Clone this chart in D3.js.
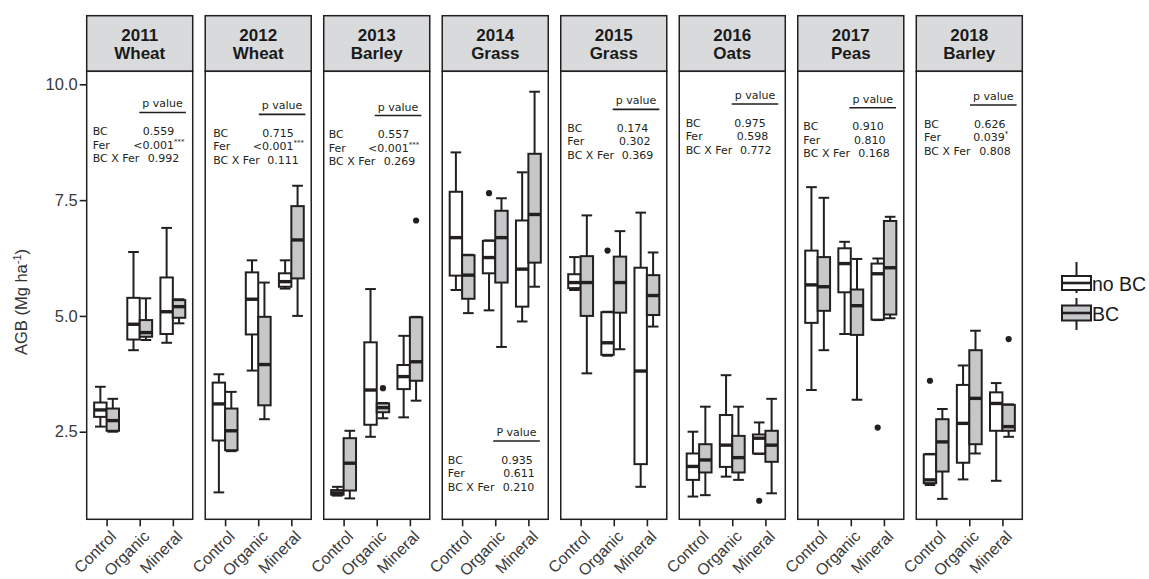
<!DOCTYPE html>
<html>
<head>
<meta charset="utf-8">
<script src="https://cdn.jsdelivr.net/npm/d3@7"></script>
<style>
  html, body { margin: 0; padding: 0; background: #ffffff; }
  svg { display: block; }
</style>
</head>
<body>
<svg id="chart" width="1149" height="579"></svg>
<script>
// ---- data ----
const years = ["2011", "2012", "2013", "2014", "2015", "2016", "2017", "2018"];
const crops = ["Wheat", "Wheat", "Barley", "Grass", "Grass", "Oats", "Peas", "Barley"];
const treatments = ["Control", "Organic", "Mineral"];
const groups = ["no BC", "BC"];

// five-number summaries [lower whisker, Q1, median, Q3, upper whisker]
// order: Control noBC, Control BC, Organic noBC, Organic BC, Mineral noBC, Mineral BC
const agb2011 = [[2.61, 2.82, 2.97, 3.13, 3.47], [2.50, 2.52, 2.74, 3.00, 3.21],
                 [4.26, 4.49, 4.82, 5.39, 6.38], [4.48, 4.55, 4.64, 4.91, 5.38],
                 [4.42, 4.61, 5.09, 5.83, 6.90], [4.84, 4.96, 5.20, 5.34, 5.36]];
const agb2012 = [[1.19, 2.31, 3.10, 3.56, 3.74], [2.08, 2.10, 2.52, 3.00, 3.36],
                 [3.82, 4.60, 5.36, 5.94, 6.20], [2.77, 3.07, 3.95, 4.98, 5.72],
                 [5.59, 5.63, 5.74, 5.92, 6.20], [5.00, 5.81, 6.64, 7.37, 7.81]];
const agb2013 = [[1.12, 1.14, 1.18, 1.24, 1.31], [1.06, 1.23, 1.82, 2.36, 2.52],
                 [2.39, 2.65, 3.40, 4.43, 5.58], [2.79, 2.92, 3.02, 3.11, 3.12],
                 [2.81, 3.42, 3.69, 3.94, 4.57], [3.17, 3.60, 4.01, 4.97, 4.98]];
const agb2014 = [[5.56, 5.87, 6.69, 7.68, 8.53], [5.06, 5.37, 5.88, 6.31, 6.32],
                 [5.12, 5.92, 6.26, 6.62, 6.63], [4.33, 5.72, 6.69, 7.27, 7.54],
                 [4.88, 5.20, 6.01, 7.06, 8.10], [5.63, 6.15, 7.19, 8.50, 9.84]];
const agb2015 = [[5.56, 5.60, 5.72, 5.90, 6.27], [3.76, 5.00, 5.72, 6.29, 7.17],
                 [4.14, 4.16, 4.42, 5.08, 5.09], [4.28, 5.07, 5.72, 6.28, 6.83],
                 [1.31, 1.80, 3.81, 6.04, 7.23], [4.77, 5.02, 5.44, 5.88, 6.37]];
const agb2016 = [[1.10, 1.46, 1.75, 2.03, 2.50], [1.13, 1.62, 1.89, 2.23, 3.04],
                 [1.53, 1.74, 2.21, 2.86, 3.72], [1.46, 1.62, 1.94, 2.41, 3.04],
                 [2.02, 2.03, 2.36, 2.44, 2.70], [1.17, 1.85, 2.21, 2.52, 3.21]];
const agb2017 = [[3.40, 4.85, 5.67, 6.41, 7.78], [4.26, 5.11, 5.63, 6.27, 7.55],
                 [4.61, 5.51, 6.13, 6.46, 6.60], [3.19, 4.59, 5.22, 5.57, 6.23],
                 [4.91, 4.92, 5.91, 6.13, 6.24], [4.95, 5.03, 6.04, 7.05, 7.14]];
const agb2018 = [[1.35, 1.39, 1.46, 2.01, 2.02], [1.05, 1.64, 2.28, 2.77, 2.99],
                 [1.47, 1.83, 2.68, 3.51, 3.93], [2.03, 2.23, 3.22, 4.26, 4.68],
                 [1.44, 2.52, 3.11, 3.35, 3.55], [2.39, 2.52, 2.61, 3.08, 3.09]];
const agbByYear = [agb2011, agb2012, agb2013, agb2014, agb2015, agb2016, agb2017, agb2018];

// outlying observations: [year, treatment, group, value]
const outliers = [
  ["2013", "Organic", "BC", 3.44], ["2013", "Mineral", "BC", 7.06],
  ["2014", "Organic", "no BC", 7.65],
  ["2015", "Organic", "no BC", 6.41],
  ["2016", "Mineral", "no BC", 1.01],
  ["2017", "Mineral", "no BC", 2.59],
  ["2018", "Control", "no BC", 3.60], ["2018", "Mineral", "BC", 4.50]
];

// ANOVA p values per year
const headerText = ["p value", "p value", "p value", "P value", "p value", "p value", "p value", "p value"];
const pBC  = ["0.559", "0.715", "0.557", "0.935", "0.174", "0.975", "0.910", "0.626"];
const pFer = ["<0.001", "<0.001", "<0.001", "0.611", "0.302", "0.598", "0.810", "0.039"];
const pFerStars = ["***", "***", "***", "", "", "", "", "*"];
const pInt = ["0.992", "0.111", "0.269", "0.210", "0.369", "0.772", "0.168", "0.808"];
const rowLabels = ["BC", "Fer", "BC X Fer"];
const yTicks = [2.5, 5.0, 7.5, 10.0];

// ---- layout of the p-value notes (header baseline in AGB units, x offsets in px) ----
const noteY = [9.50, 9.46, 9.434, 2.407, 9.568, 9.683, 9.603, 9.661];
const noteLabelX = [6.0, 8.0, 5.0, 5.6, 6.6, 6.4, 5.6, 7.7];
const noteValueX = [[56, 46.6, 61], [57, 47.6, 62], [54, 44.4, 60], [59, 61, 60.6],
                    [56, 58.3, 61], [55, 57.4, 60.7], [54.6, 56.3, 60.6], [57.7, 57, 63]];
const noteRuleX = [52.6, 53.6, 51, 51, 52, 52.4, 51.6, 53.7];

// ---- geometry ----
const panelLeft = 86.7, panelRight = 1022.3;
const stripTop = 15.7, panelTop = 71.3, panelBottom = 519.3;
const ink = "#231f20";

const svg = d3.select("#chart");
svg.append("rect").attr("width", 1149).attr("height", 579).attr("fill", "#ffffff");

const fx = d3.scaleBand().domain(years).range([panelLeft, panelRight])
  .paddingInner(0.1054).paddingOuter(0);
const x = d3.scalePoint().domain(treatments).range([0, fx.bandwidth()]).padding(0.6);
const xg = d3.scaleBand().domain(groups).range([-0.375 * x.step(), 0.375 * x.step()]);
const y = d3.scaleLinear().domain([0.609, 10.281]).range([panelBottom, panelTop]);
const fill = d3.scaleOrdinal().domain(groups).range(["#ffffff", "#c6c7c9"]);

// flat table of boxes built from the per-year arrays
const boxes = [];
years.forEach((yr, i) => {
  treatments.forEach((t, ti) => {
    groups.forEach((g, gi) => {
      const s = agbByYear[i][ti * 2 + gi];
      boxes.push({ year: yr, treatment: t, group: g,
        lo: s[0], q1: s[1], med: s[2], q3: s[3], hi: s[4] });
    });
  });
});

// y axis
const yAxis = svg.append("g")
  .attr("transform", `translate(${panelLeft},0)`)
  .call(d3.axisLeft(y).tickValues(yTicks).tickFormat(d3.format(".1f")).tickSize(7).tickPadding(2));
yAxis.select(".domain").remove();
yAxis.selectAll(".tick line").attr("stroke", ink).attr("stroke-width", 1.6);
yAxis.selectAll(".tick text")
  .attr("fill", "#3a3a3a")
  .style("font-family", "'Liberation Sans', Arial, sans-serif")
  .style("font-size", "16.5px");

// y axis title
const yTitle = svg.append("text")
  .attr("transform", "translate(27,302) rotate(-90)")
  .attr("text-anchor", "middle")
  .attr("fill", "#333333")
  .style("font-family", "'Liberation Sans', Arial, sans-serif")
  .style("font-size", "16.5px");
yTitle.append("tspan").text("AGB (Mg ha");
yTitle.append("tspan").attr("dy", -6).style("font-size", "11px").text("-1");
yTitle.append("tspan").attr("dy", 6).text(")");

// panels
const panels = svg.selectAll("g.panel").data(years).join("g")
  .attr("class", "panel")
  .attr("transform", d => `translate(${fx(d)},0)`);

// strips
panels.append("rect")
  .attr("x", 0).attr("y", stripTop)
  .attr("width", fx.bandwidth()).attr("height", panelTop - stripTop)
  .attr("fill", "#d9dadc").attr("stroke", ink).attr("stroke-width", 1.5);
panels.each(function (d, i) {
  const t = d3.select(this).append("text")
    .attr("text-anchor", "middle")
    .attr("fill", "#1a1a1a")
    .style("font-family", "'Liberation Sans', Arial, sans-serif")
    .style("font-weight", "bold")
    .style("font-size", "17px");
  t.append("tspan").attr("x", fx.bandwidth() / 2).attr("y", 40.6).text(d);
  t.append("tspan").attr("x", fx.bandwidth() / 2).attr("y", 58.6).text(crops[i]);
});

// panel background
panels.append("rect")
  .attr("x", 0).attr("y", panelTop)
  .attr("width", fx.bandwidth()).attr("height", panelBottom - panelTop)
  .attr("fill", "#ffffff");

// x axes
panels.each(function () {
  const ax = d3.select(this).append("g")
    .attr("transform", `translate(0,${panelBottom})`)
    .call(d3.axisBottom(x).tickSize(7).tickPadding(0));
  ax.select(".domain").remove();
  ax.selectAll(".tick line").attr("stroke", ink).attr("stroke-width", 1.6);
  ax.selectAll(".tick text")
    .attr("fill", "#3a3a3a")
    .attr("text-anchor", "end")
    .attr("y", 0)
    .attr("transform", "translate(2,10) rotate(-45)")
    .attr("dy", "0.72em")
    .style("font-family", "'Liberation Sans', Arial, sans-serif")
    .style("font-size", "16px");
});

// boxplots
const bw = xg.bandwidth();
const capW = bw * 0.86;
panels.each(function (yr) {
  const g = d3.select(this);
  const data = boxes.filter(b => b.year === yr);
  const bx = b => x(b.treatment) + xg(b.group);
  const cx = b => bx(b) + bw / 2;

  const bg = g.selectAll("g.box").data(data).join("g").attr("class", "box");
  // whiskers
  bg.append("line")
    .attr("x1", cx).attr("x2", cx)
    .attr("y1", b => y(b.hi)).attr("y2", b => y(b.q3))
    .attr("stroke", ink).attr("stroke-width", 2);
  bg.append("line")
    .attr("x1", cx).attr("x2", cx)
    .attr("y1", b => y(b.q1)).attr("y2", b => y(b.lo))
    .attr("stroke", ink).attr("stroke-width", 2);
  // caps
  ["hi", "lo"].forEach(k => {
    bg.append("line")
      .attr("x1", b => cx(b) - capW / 2).attr("x2", b => cx(b) + capW / 2)
      .attr("y1", b => y(b[k])).attr("y2", b => y(b[k]))
      .attr("stroke", ink).attr("stroke-width", 2);
  });
  // box
  bg.append("rect")
    .attr("x", bx).attr("width", bw)
    .attr("y", b => y(b.q3)).attr("height", b => Math.max(0.5, y(b.q1) - y(b.q3)))
    .attr("fill", b => fill(b.group))
    .attr("stroke", ink).attr("stroke-width", 2);
  // median
  bg.append("line")
    .attr("x1", bx).attr("x2", b => bx(b) + bw)
    .attr("y1", b => y(b.med)).attr("y2", b => y(b.med))
    .attr("stroke", ink).attr("stroke-width", 3.4);

  // outliers
  g.selectAll("circle.out").data(outliers.filter(o => o[0] === yr)).join("circle")
    .attr("class", "out")
    .attr("cx", o => x(o[1]) + xg(o[2]) + bw / 2)
    .attr("cy", o => y(o[3]))
    .attr("r", 3.1)
    .attr("fill", ink);
});

// p-value notes
panels.each(function (yr, i) {
  const g = d3.select(this);
  const y0 = y(noteY[i]);
  const font = "'DejaVu Sans', Verdana, sans-serif";
  const rule0 = noteRuleX[i];
  g.append("text")
    .attr("x", rule0 + 23.3).attr("y", y0)
    .attr("text-anchor", "middle")
    .attr("fill", ink)
    .style("font-family", font).style("font-size", "11px")
    .text(headerText[i]);
  g.append("line")
    .attr("x1", rule0).attr("x2", rule0 + 46.6)
    .attr("y1", y0 + 5).attr("y2", y0 + 5)
    .attr("stroke", ink).attr("stroke-width", 1.6);
  const vals = [pBC[i], pFer[i], pInt[i]];
  rowLabels.forEach((lab, r) => {
    const yy = y0 + 27.6 + r * 13.5;
    g.append("text")
      .attr("x", noteLabelX[i]).attr("y", yy)
      .attr("fill", ink)
      .style("font-family", font).style("font-size", "11px")
      .text(lab);
    const vt = g.append("text")
      .attr("x", noteValueX[i][r]).attr("y", yy)
      .attr("fill", ink)
      .style("font-family", font).style("font-size", "11px");
    vt.append("tspan").text(vals[r]);
    if (r === 1 && pFerStars[i]) {
      vt.append("tspan").attr("dy", -5).style("font-size", "7px").text(pFerStars[i]);
    }
  });
});

// panel borders on top
panels.append("rect")
  .attr("x", 0).attr("y", panelTop)
  .attr("width", fx.bandwidth()).attr("height", panelBottom - panelTop)
  .attr("fill", "none").attr("stroke", ink).attr("stroke-width", 1.5);

// legend
const legend = svg.append("g").attr("transform", "translate(1062,0)");
const keyW = 29;
const keyRows = [
  { g: "no BC", w0: 262, b0: 276, m: 283, b1: 290, w1: 293, ty: 290.5 },
  { g: "BC", w0: 298, b0: 305.5, m: 313, b1: 320.5, w1: 330, ty: 320.5 }
];
keyRows.forEach(k => {
  legend.append("line").attr("x1", keyW / 2).attr("x2", keyW / 2)
    .attr("y1", k.w0).attr("y2", k.w1).attr("stroke", ink).attr("stroke-width", 2);
  legend.append("rect").attr("x", 0).attr("width", keyW)
    .attr("y", k.b0).attr("height", k.b1 - k.b0)
    .attr("fill", fill(k.g)).attr("stroke", ink).attr("stroke-width", 2);
  legend.append("line").attr("x1", 0).attr("x2", keyW)
    .attr("y1", k.m).attr("y2", k.m).attr("stroke", ink).attr("stroke-width", 2.6);
  legend.append("text").attr("x", keyW + 1).attr("y", k.ty)
    .attr("fill", "#1a1a1a")
    .style("font-family", "'Liberation Sans', Arial, sans-serif")
    .style("font-size", "19.5px")
    .text(k.g);
});
</script>
</body>
</html>
